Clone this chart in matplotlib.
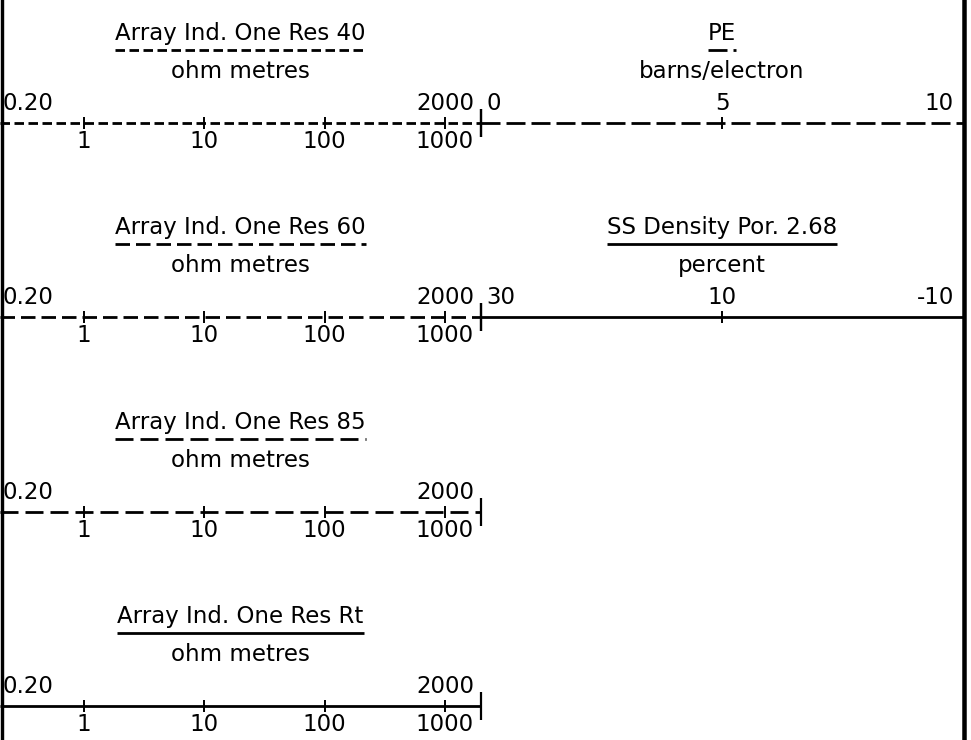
import matplotlib
matplotlib.use("Agg")
import matplotlib.pyplot as plt
from matplotlib.lines import Line2D
from matplotlib.ticker import FixedLocator, NullFormatter, FixedFormatter

plt.rcParams['font.family'] = ['DejaVu Sans']
plt.rcParams['lines.scale_dashes'] = False

# ---------------- data ----------------
res_titles = ["Array Ind. One Res 40", "Array Ind. One Res 60",
              "Array Ind. One Res 85", "Array Ind. One Res Rt"]
res_unit = "ohm metres"
res_limits = (0.2, 2000)
res_end_labels = ("0.20", "2000")
res_ticks = [1, 10, 100, 1000]
res_tick_labels = ["1", "10", "100", "1000"]

right_titles = ["PE", "SS Density Por. 2.68"]
right_units = ["barns/electron", "percent"]
right_limits = [(0, 10), (30, -10)]
right_mid_ticks = [5, 10]
right_labels = [["0", "5", "10"], ["30", "10", "-10"]]

# ---------------- styles / layout ----------------
W, H = 971, 740
PX = 0.72  # points per pixel at 100 dpi
res_dashes = [(9.5, 4.5), (14.5, 6), (18, 7), None]   # pixels
right_dashes = [(19, 6), None]
row_lines = [123, 317, 512, 706]
LEFT_X = (0, 481)
RIGHT_X = (481, 963)
AX_H = 100
FS = 16.5
LW = 2.0

fig = plt.figure(figsize=(W / 100, H / 100), dpi=100)
fig.patch.set_facecolor('white')


def ls_of(d):
    if d is None:
        return '-'
    return (0, (d[0] * PX, d[1] * PX))


def make_track(xr, yline, title, unit, scale, limits, dashes):
    ax = fig.add_axes([xr[0] / W, (H - yline) / H, (xr[1] - xr[0]) / W, AX_H / H])
    ax.set_xscale(scale)
    ax.set_xlim(*limits)
    ax.set_ylim(0, 1)
    ax.patch.set_visible(False)
    for s in ['top', 'left', 'right']:
        ax.spines[s].set_visible(False)
    sp = ax.spines['bottom']
    sp.set_linewidth(LW)
    sp.set_linestyle(ls_of(dashes))
    sp.set_capstyle('butt')
    ax.yaxis.set_visible(False)
    t = ax.annotate(title, xy=(0.5, 0), xycoords='axes fraction', xytext=(0, 83),
                    textcoords='offset pixels', ha='center', va='baseline', fontsize=FS)
    ax.annotate(unit, xy=(0.5, 0), xycoords='axes fraction', xytext=(0, 45),
                textcoords='offset pixels', ha='center', va='baseline', fontsize=FS)
    return ax, t


tracks = []
for i, y in enumerate(row_lines):
    ax, t = make_track(LEFT_X, y, res_titles[i], res_unit, 'log', res_limits, res_dashes[i])
    ax.xaxis.set_major_locator(FixedLocator(res_ticks))
    ax.xaxis.set_major_formatter(FixedFormatter(res_tick_labels))
    ax.xaxis.set_minor_locator(FixedLocator([res_limits[1]]))
    ax.xaxis.set_minor_formatter(NullFormatter())
    ax.tick_params(axis='x', which='major', direction='inout', length=12 * PX,
                   width=1.4, pad=0.5, labelsize=FS)
    ax.tick_params(axis='x', which='minor', direction='inout', length=28 * PX, width=1.6)
    ax.annotate(res_end_labels[0], xy=(res_limits[0], 0), xycoords=('data', 'axes fraction'),
                xytext=(3, 13), textcoords='offset pixels', ha='left', va='baseline', fontsize=FS)
    ax.annotate(res_end_labels[1], xy=(res_limits[1], 0), xycoords=('data', 'axes fraction'),
                xytext=(-7, 13), textcoords='offset pixels', ha='right', va='baseline', fontsize=FS)
    tracks.append((ax, t, res_dashes[i]))

for i in range(len(right_titles)):
    ax, t = make_track(RIGHT_X, row_lines[i], right_titles[i], right_units[i], 'linear',
                       right_limits[i], right_dashes[i])
    lo, hi = right_limits[i]
    ax.xaxis.set_major_locator(FixedLocator([right_mid_ticks[i]]))
    ax.xaxis.set_major_formatter(NullFormatter())
    ax.xaxis.set_minor_locator(FixedLocator([lo]))
    ax.xaxis.set_minor_formatter(NullFormatter())
    ax.tick_params(axis='x', which='major', direction='inout', length=12 * PX, width=1.4)
    ax.tick_params(axis='x', which='minor', direction='inout', length=28 * PX, width=1.6)
    labs = right_labels[i]
    ax.annotate(labs[0], xy=(lo, 0), xycoords=('data', 'axes fraction'), xytext=(5, 13),
                textcoords='offset pixels', ha='left', va='baseline', fontsize=FS)
    ax.annotate(labs[1], xy=(right_mid_ticks[i], 0), xycoords=('data', 'axes fraction'),
                xytext=(0, 13), textcoords='offset pixels', ha='center', va='baseline', fontsize=FS)
    ax.annotate(labs[2], xy=(hi, 0), xycoords=('data', 'axes fraction'), xytext=(-9, 13),
                textcoords='offset pixels', ha='right', va='baseline', fontsize=FS)
    tracks.append((ax, t, right_dashes[i]))

# underlines (curve style samples) matching title width
fig.canvas.draw()
renderer = fig.canvas.get_renderer()
for ax, t, d in tracks:
    bb = t.get_window_extent(renderer)
    inv = ax.transAxes.inverted()
    x0 = inv.transform((bb.x0, 0))[0]
    x1 = inv.transform((bb.x1, 0))[0]
    yf = 73 / AX_H
    ax.plot([x0, x1], [yf, yf], transform=ax.transAxes, color='black', lw=LW,
            linestyle=ls_of(d), solid_capstyle='butt', dash_capstyle='butt', clip_on=False)

# track borders
fig.add_artist(Line2D([1.7 / W, 1.7 / W], [0, 1], transform=fig.transFigure,
                      color='black', lw=3.4 * PX))
fig.add_artist(Line2D([963.5 / W, 963.5 / W], [0, 1], transform=fig.transFigure,
                      color='black', lw=4.5 * PX))

fig.savefig('out.png', dpi=100, facecolor='white')
